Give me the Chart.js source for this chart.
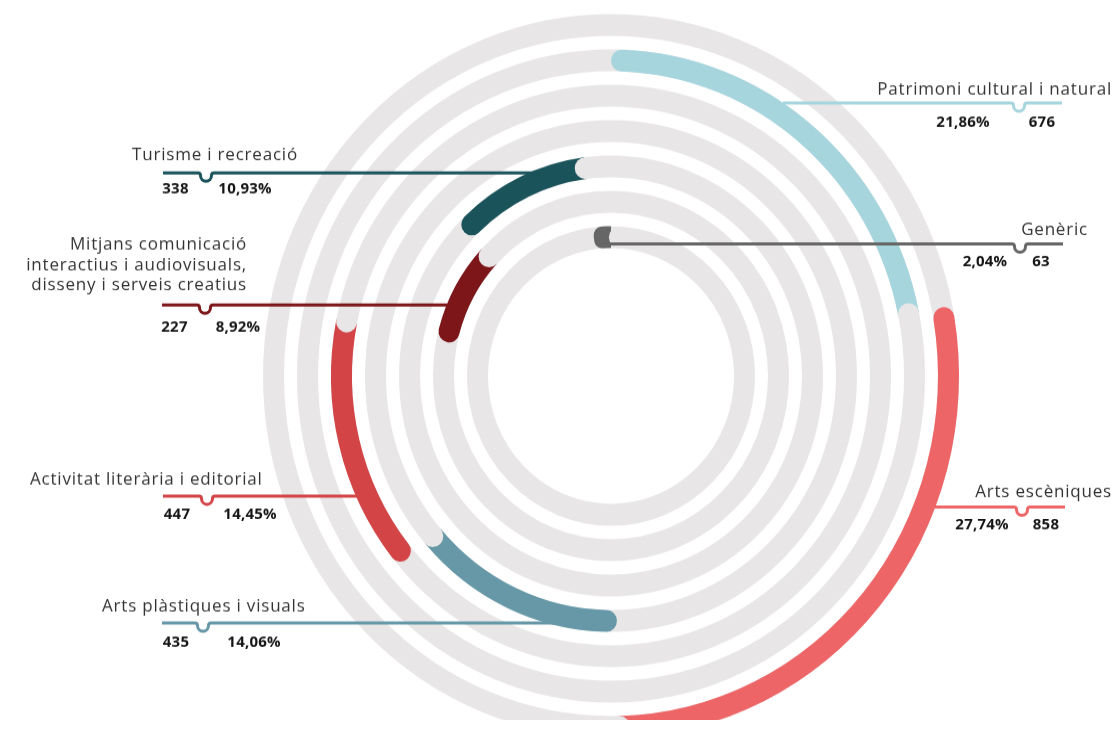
<!DOCTYPE html>
<html>
<head>
<meta charset="utf-8">
<script src="https://cdn.jsdelivr.net/npm/chart.js@4.4.0/dist/chart.umd.min.js"></script>
<style>
  html, body { margin: 0; padding: 0; background: #fff; overflow: hidden; }
  #wrap { width: 1116px; height: 720px; transform: scaleY(1.04); transform-origin: 0 0; }
</style>
</head>
<body>
<div id="wrap"><canvas id="ringChart" width="1116" height="720"></canvas></div>
<script>
// categories in the order their arcs follow round the circle, clockwise from the top
const categories = [
    'Patrimoni cultural i natural',
    'Arts escèniques',
    'Arts plàstiques i visuals',
    'Activitat literària i editorial',
    'Mitjans comunicació interactius i audiovisuals, disseny i serveis creatius',
    'Turisme i recreació',
    'Genèric'
];
const counts = [676, 858, 435, 447, 227, 338, 63];
const percents = [21.86, 27.74, 14.06, 14.45, 8.92, 10.93, 2.04];
const ringOf = [2, 1, 4, 3, 6, 5, 7]; // track number, 1 = outermost

const colors = ['#a7d5de', '#ed6567', '#6698a7', '#d34446', '#7c1619', '#1b535b', '#666666'];
const TRACK = '#e8e6e7';
const SY = 1.04; // the picture is a little taller than wide

// where each label goes (screen px)
const labelLayout = [
    { words: [4], align: 'right', tx: 1112, ty: [90], ly: 103, x0: 783, x1: 1062, notch: 1019, pctX: 963, numX: 1042, ny: 122 },
    { words: [2], align: 'right', tx: 1112, ty: [492], ly: 507, x0: 935, x1: 1065, notch: 1022, pctX: 982, numX: 1046, ny: 525 },
    { words: [4], align: 'left', tx: 102, ty: [607], ly: 623, x0: 162, x1: 611, notch: 203, pctX: 254, numX: 176, ny: 642 },
    { words: [4], align: 'left', tx: 30, ty: [480], ly: 496, x0: 163, x1: 357, notch: 207, pctX: 250, numX: 177, ny: 515 },
    { words: [2, 3, 4], align: 'right', tx: 247, ty: [245, 265, 285], ly: 305, x0: 162, x1: 447, notch: 205, pctX: 238, numX: 174.5, ny: 327 },
    { words: [3], align: 'left', tx: 132, ty: [155], ly: 173, x0: 163, x1: 572, notch: 206, pctX: 245, numX: 175.5, ny: 189 },
    { words: [1], align: 'right', tx: 1088, ty: [230], ly: 244, x0: 603, x1: 1063, notch: 1020, pctX: 985, numX: 1041, ny: 262 }
];

function fmtPct(v) {
    return v.toFixed(2).replace('.', ',') + '%';
}

function splitWords(text, counts) {
    const w = text.split(' ');
    const out = [];
    let i = 0;
    counts.forEach(n => { out.push(w.slice(i, i + n).join(' ')); i += n; });
    return out;
}

// one dataset per track, with a transparent spacer between tracks
const datasets = [];
for (let r = 1; r <= 7; r++) {
    const k = ringOf.indexOf(r);
    const start = percents.slice(0, k).reduce((s, v) => s + v, 0);
    datasets.push({
        label: categories[k],
        cat: k,
        data: [start, percents[k], Math.max(100 - start - percents[k], 0)],
        backgroundColor: ['transparent', colors[k], 'transparent'],
        borderWidth: 0,
        hoverOffset: 0,
        weight: 21,
        borderRadius: c => c.dataIndex === 1 ? { outerStart: 11, innerStart: 11, outerEnd: 0, innerEnd: 0 } : 0
    });
    if (r < 7) {
        datasets.push({ data: [1], backgroundColor: ['transparent'], borderWidth: 0, hoverOffset: 0, weight: 13 });
    }
}

const ringTrack = {
    id: 'ringTrack',
    beforeDatasetsDraw(chart) {
        const ctx = chart.ctx;
        chart.data.datasets.forEach((ds, i) => {
            if (ds.cat === undefined) return;
            const a = chart.getDatasetMeta(i).data[0];
            ctx.save();
            ctx.beginPath();
            ctx.arc(a.x, a.y, (a.innerRadius + a.outerRadius) / 2, 0, Math.PI * 2);
            ctx.lineWidth = a.outerRadius - a.innerRadius;
            ctx.strokeStyle = TRACK;
            ctx.stroke();
            ctx.restore();
        });
    },
    afterDatasetsDraw(chart) {
        const ctx = chart.ctx;
        ctx.save();
        // the grey track's round cap sits over the end of each arc
        chart.data.datasets.forEach((ds, i) => {
            if (ds.cat === undefined) return;
            const a = chart.getDatasetMeta(i).data[1];
            const rm = (a.innerRadius + a.outerRadius) / 2;
            const half = (a.outerRadius - a.innerRadius) / 2;
            // short arcs: push the cap on a bit so some colour still shows
            const push = ds.data[1] < 5 ? half / rm * 0.8 : 0;
            const ang = a.endAngle + push;
            ctx.beginPath();
            ctx.arc(a.x + Math.cos(ang) * rm, a.y + Math.sin(ang) * rm, half, 0, Math.PI * 2);
            ctx.fillStyle = TRACK;
            ctx.fill();
        });

        // leader lines and labels
        labelLayout.forEach((L, k) => {
            const ly = L.ly / SY;
            const n = L.notch;
            ctx.beginPath();
            ctx.moveTo(L.x0, ly);
            ctx.lineTo(n - 8, ly);
            ctx.arc(n - 8, ly + 2.5, 2.5, -Math.PI / 2, 0);
            ctx.arc(n, ly + 2.5, 5.5, Math.PI, 0, true);
            ctx.arc(n + 8, ly + 2.5, 2.5, Math.PI, Math.PI * 1.5);
            ctx.lineTo(L.x1, ly);
            ctx.strokeStyle = colors[k];
            ctx.lineWidth = 3;
            ctx.lineJoin = 'round';
            ctx.stroke();

            ctx.fillStyle = '#333333';
            ctx.font = '17px "Open Sans"';
            ctx.letterSpacing = '0.8px';
            ctx.textAlign = L.align;
            ctx.textBaseline = 'middle';
            splitWords(categories[k], L.words).forEach((t, j) => {
                ctx.fillText(t, L.tx, L.ty[j] / SY);
            });

            ctx.fillStyle = '#141414';
            ctx.font = 'bold 15px "Open Sans"';
            ctx.letterSpacing = '0.2px';
            ctx.textAlign = 'center';
            ctx.fillText(fmtPct(percents[k]), L.pctX, L.ny / SY);
            ctx.fillText(String(counts[k]), L.numX, L.ny / SY);
        });
        ctx.restore();
    }
};

new Chart(document.getElementById('ringChart'), {
    type: 'doughnut',
    data: { labels: ['', '', ''], datasets: datasets },
    options: {
        responsive: false,
        animation: false,
        events: [],
        cutout: 123,
        layout: { padding: { left: 263, right: 157, top: 13.5, bottom: 10.5 } },
        plugins: {
            legend: { display: false },
            tooltip: { enabled: false }
        }
    },
    plugins: [ringTrack]
});
</script>
</body>
</html>
